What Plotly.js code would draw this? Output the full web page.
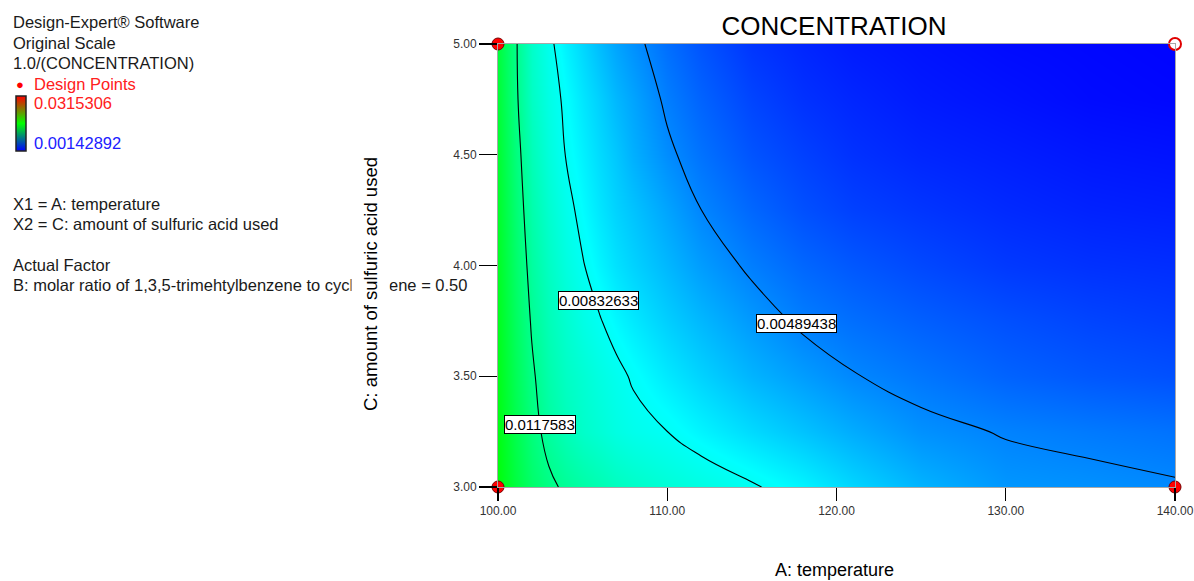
<!DOCTYPE html>
<html>
<head>
<meta charset="utf-8">
<script src="https://cdn.plot.ly/plotly-3.0.1.min.js"></script>
<style>html,body{margin:0;padding:0;background:#fff;}#chart{width:1194px;height:581px;}</style>
</head>
<body>
<div id="chart"></div>
<script>
// ---- data ----
const temperature = [100, 101, 102, 103, 104, 105, 106, 107, 108, 110, 112, 115, 118, 121, 125, 130, 135, 140];
const acidAmount = [3.0, 3.25, 3.5, 3.75, 4.0, 4.25, 4.5, 4.75, 5.0];
// response 1.0/(CONCENTRATION), one row per acidAmount value
const z_at_3_00 = [0.0161, 0.0144, 0.0130, 0.0121, 0.0115, 0.0110, 0.0106, 0.0102, 0.0099, 0.0094, 0.0090, 0.00845, 0.0078, 0.0070, 0.0061, 0.00535, 0.0052, 0.0050];
const z_at_3_25 = [0.0159, 0.0140, 0.0124, 0.0112, 0.0104, 0.0098, 0.0094, 0.0090, 0.0087, 0.00833, 0.0078, 0.0071, 0.0065, 0.0059, 0.0052, 0.00482, 0.0046, 0.0044];
const z_at_3_50 = [0.0157, 0.0137, 0.0120, 0.0108, 0.0100, 0.0095, 0.0090, 0.0086, 0.0082, 0.0075, 0.0069, 0.0061, 0.0055, 0.00495, 0.0045, 0.0040, 0.0037, 0.0035];
const z_at_3_75 = [0.0155, 0.0134, 0.0116, 0.0104, 0.0096, 0.0089, 0.0084, 0.0079, 0.0075, 0.0068, 0.0062, 0.0054, 0.0047, 0.0043, 0.0039, 0.0035, 0.0032, 0.0030];
const z_at_4_00 = [0.0153, 0.0131, 0.0112, 0.0100, 0.0091, 0.0084, 0.0078, 0.0073, 0.0069, 0.0062, 0.0055, 0.0047, 0.0041, 0.0037, 0.0033, 0.0029, 0.0027, 0.0026];
const z_at_4_25 = [0.0151, 0.0128, 0.0108, 0.0096, 0.0087, 0.0080, 0.0074, 0.0069, 0.0065, 0.0057, 0.0049, 0.0041, 0.0035, 0.0031, 0.0028, 0.0025, 0.0023, 0.0022];
const z_at_4_50 = [0.0149, 0.0125, 0.0104, 0.0092, 0.0083, 0.0077, 0.0071, 0.0066, 0.0060, 0.0051, 0.0044, 0.0036, 0.0031, 0.0027, 0.0024, 0.0022, 0.0020, 0.0019];
const z_at_4_75 = [0.0147, 0.01215, 0.0100, 0.0089, 0.0081, 0.0074, 0.0068, 0.0062, 0.0057, 0.0047, 0.0040, 0.0032, 0.0027, 0.0024, 0.0021, 0.0019, 0.0017, 0.0016];
const z_at_5_00 = [0.0145, 0.01205, 0.0098, 0.0086, 0.0077, 0.0070, 0.0063, 0.0057, 0.0052, 0.0043, 0.0036, 0.0028, 0.0024, 0.0021, 0.0019, 0.0017, 0.0016, 0.0015];
const contourLevels = [0.00489438, 0.00832633, 0.0117583];
const contourLabelText = ["0.00489438", "0.00832633", "0.0117583"];
const contourLabelX = [117.64, 105.91, 102.51];
const contourLabelY = [3.736, 3.840, 3.282];
const colorMax = 0.0315306;
const colorMin = 0.00142892;
const designX = [100, 100, 140, 140];
const designY = [3, 5, 3, 5];
const xTicks = [100, 110, 120, 130, 140];
const yTicks = [3.0, 3.5, 4.0, 4.5, 5.0];

// ---- layout geometry ----
const W = 1194, H = 581;
const M = {l: 498, r: 19, t: 44, b: 94};
const PW = W - M.l - M.r, PH = H - M.t - M.b;
const px = p => (p - M.l) / PW;
const py = p => (M.t + PH - p) / PH;
const FONT = "Liberation Sans, Arial, sans-serif";
const TXT = "#1a1a1a";

const z = [z_at_3_00, z_at_3_25, z_at_3_50, z_at_3_75, z_at_4_00, z_at_4_25, z_at_4_50, z_at_4_75, z_at_5_00];

const traces = [
  {
    type: 'contour',
    x: temperature, y: acidAmount, z: z,
    zmin: colorMin, zmax: colorMax, zauto: false,
    colorscale: [[0, '#0000ff'], [0.22, '#00ffff'], [0.5, '#00ff00'], [0.75, '#ffff00'], [1, '#ff0000']],
    contours: {start: contourLevels[0], end: contourLevels[2],
      size: (contourLevels[2] - contourLevels[0]) / 2, coloring: 'heatmap', showlabels: false},
    line: {color: '#000', width: 1.1, smoothing: 1.3},
    showscale: false,
    hoverinfo: 'skip'
  },
  {
    // legend colour bar (red - green - blue gradient)
    type: 'scatter', mode: 'markers', x: [null], y: [null], showlegend: false, hoverinfo: 'skip',
    marker: {color: [colorMin], cmin: colorMin, cmax: colorMax,
      colorscale: [[0, '#0000ff'], [0.5, '#00ff00'], [1, '#ff0000']], showscale: true,
      colorbar: {x: px(16), xanchor: 'left', y: py(96), yanchor: 'top',
        len: 55 / PH, lenmode: 'fraction', thickness: 10, thicknessmode: 'pixels',
        xpad: 0, ypad: 0, outlinecolor: '#222', outlinewidth: 1.5, showticklabels: false, ticks: ''}}
  },
  {
    type: 'scatter', mode: 'markers', x: designX, y: designY, cliponaxis: false,
    marker: {size: 12, color: ['#ff0000', '#ff0000', '#ff0000', '#ffffff'],
      line: {color: ['#700', '#700', '#700', '#e00000'], width: [1, 1, 1, 2]}},
    showlegend: false, hoverinfo: 'skip'
  }
];

const ann = [];
function leftText(text, ypix, color, size, xpix) {
  ann.push({xref: 'paper', yref: 'paper', x: px(xpix === undefined ? 11 : xpix), y: py(ypix),
    xanchor: 'left', yanchor: 'middle', showarrow: false, text: text,
    font: {family: FONT, size: size || 16.5, color: color || TXT}});
}
leftText('Design-Expert® Software', 22);
leftText('Original Scale', 43);
leftText('1.0/(CONCENTRATION)', 63);
leftText('●', 84, '#ff0000', 13, 14);
leftText('Design Points', 84, '#ff2020', 16.5, 32);
leftText(String(colorMax), 103, '#ff2020', 16.5, 32);
leftText(String(colorMin), 143, '#2020ff', 16.5, 32);
leftText('X1 = A: temperature', 204);
leftText('X2 = C: amount of sulfuric acid used', 224);
leftText('Actual Factor', 265);
leftText('B: molar ratio of 1,3,5-trimehtylbenzene to cyclohexene = 0.50', 285);

// y axis title with white background covering the text behind it
ann.push({xref: 'paper', yref: 'paper', x: px(370), y: py(284), xanchor: 'center', yanchor: 'middle',
  showarrow: false, textangle: -90, text: 'C: amount of sulfuric acid used',
  font: {family: FONT, size: 18.5, color: '#000'}, bgcolor: '#ffffff', borderpad: 8});
// x axis title
ann.push({xref: 'paper', yref: 'paper', x: px(834), y: py(570), xanchor: 'center', yanchor: 'middle',
  showarrow: false, text: 'A: temperature', font: {family: FONT, size: 18, color: '#000'}});

// contour labels
for (let i = 0; i < contourLabelText.length; i++) {
  ann.push({x: contourLabelX[i], y: contourLabelY[i], xref: 'x', yref: 'y', showarrow: false,
    text: contourLabelText[i], font: {family: FONT, size: 15, color: '#000'},
    bgcolor: '#ffffff', bordercolor: '#000', borderwidth: 1, borderpad: 0});
}

const layout = {
  width: W, height: H, margin: M, paper_bgcolor: '#fff', plot_bgcolor: '#fff',
  showlegend: false,
  title: {text: 'CONCENTRATION', x: px(834), xanchor: 'center', y: 1 - 26 / H, yanchor: 'middle',
    xref: 'paper', font: {family: FONT, size: 26, color: '#000'}},
  xaxis: {range: [100, 140], tickvals: xTicks, ticktext: xTicks.map(v => v.toFixed(2)),
    ticks: 'outside', ticklen: 13, tickcolor: '#000', tickwidth: 1.2, ticklabeloverflow: 'allow',
    showgrid: true, gridcolor: '#a8a8a8', gridwidth: 1,
    showline: true, linecolor: '#a8a8a8', mirror: true, zeroline: false,
    tickfont: {family: FONT, size: 12, color: '#333'}},
  yaxis: {range: [3, 5], tickvals: yTicks, ticktext: yTicks.map(v => v.toFixed(2)),
    ticks: 'outside', ticklen: 18, tickcolor: '#000', tickwidth: 1.2,
    showgrid: true, gridcolor: '#a8a8a8', gridwidth: 1,
    showline: true, linecolor: '#a8a8a8', mirror: true, zeroline: false,
    tickfont: {family: FONT, size: 12, color: '#333'}},
  annotations: ann
};

Plotly.newPlot('chart', traces, layout, {displayModeBar: false, staticPlot: true});
</script>
</body>
</html>
